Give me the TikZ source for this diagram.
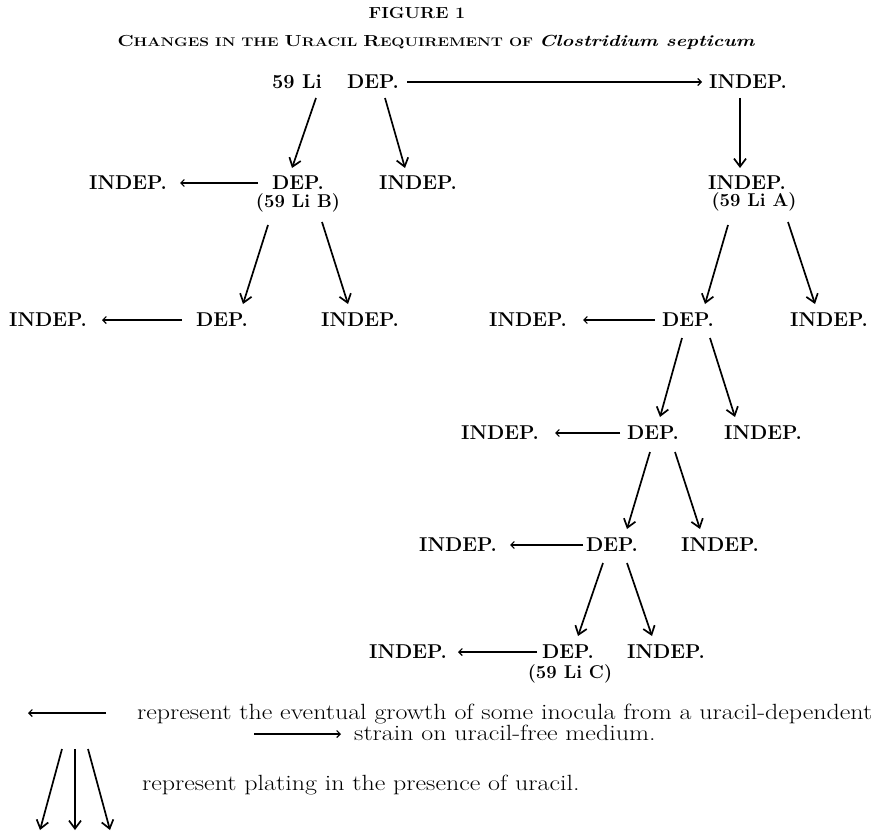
\documentclass[tikz,border=0pt]{standalone}
\usepackage{fontspec}
\usepackage{graphicx}
\usetikzlibrary{arrows.meta,calc}
\newcommand\mysc[2]{{\fontsize{16}{18}\selectfont #1}{\fontsize{12.5}{14}\selectfont #2}}
\begin{document}
\begin{tikzpicture}[x=1pt,y=-1pt,
  lbl/.style={font=\fontsize{20}{24}\selectfont\bfseries, inner sep=0pt},
  sublbl/.style={font=\fontsize{18.5}{21}\selectfont\bfseries, inner sep=0pt},
  legtxt/.style={font=\fontsize{22}{24}\selectfont, inner sep=0pt},
  dar/.style={line width=1.7pt, -{Straight Barb[length=8pt,width=12pt]}},
  har/.style={line width=1.1pt, -{Straight Barb[length=3.5pt,width=7pt]}}]
\useasboundingbox (0,0) rectangle (883,832);
% titles
\node[inner sep=0pt] (title) at (417,13) {\scalebox{1.12}[1]{\fontsize{16}{18}\selectfont\bfseries FIGURE 1}};
\node[inner sep=0pt, font=\fontsize{13}{15}\selectfont\bfseries] (subtitle) at (436,42)
  {\resizebox{637pt}{\height}{\mysc{C}{HANGES} \mysc{}{IN THE} \mysc{U}{RACIL} \mysc{R}{EQUIREMENT} \mysc{}{OF} {\fontsize{16}{18}\selectfont\itshape Clostridium septicum}}};
% row 1
\node[lbl] (a) at (297,82) {59 Li};
\node[lbl] (b) at (373,82) {DEP.};
\node[lbl] (c) at (748,82) {INDEP.};
% row 2
\node[lbl] (d) at (128,183) {INDEP.};
\node[lbl] (e) at (298,183) {DEP.};
\node[sublbl] (eB) at (298,203) {(59 Li B)};
\node[lbl] (f) at (418,183) {INDEP.};
\node[lbl] (g) at (747,183) {INDEP.};
\node[sublbl] (gA) at (754,202) {(59 Li A)};
% row 3
\node[lbl] (h) at (48,320) {INDEP.};
\node[lbl] (i) at (222,320) {DEP.};
\node[lbl] (j) at (360,320) {INDEP.};
\node[lbl] (k) at (528,320) {INDEP.};
\node[lbl] (l) at (688,320) {DEP.};
\node[lbl] (m) at (829,320) {INDEP.};
% row 4
\node[lbl] (n) at (500,433) {INDEP.};
\node[lbl] (o) at (653,433) {DEP.};
\node[lbl] (p) at (763,433) {INDEP.};
% row 5
\node[lbl] (q) at (458,545) {INDEP.};
\node[lbl] (r) at (612,545) {DEP.};
\node[lbl] (s) at (720,545) {INDEP.};
% row 6
\node[lbl] (t) at (408,652) {INDEP.};
\node[lbl] (u) at (568,652) {DEP.};
\node[sublbl] (uC) at (570,674) {(59 Li C)};
\node[lbl] (v) at (666,652) {INDEP.};
% horizontal arrows
\draw[har] ($(b)+(34,0)$) -- ($(c)+(-46,0)$);
\draw[har] ($(e)+(-40,0)$) -- ($(d)+(52,0)$);
\draw[har] ($(i)+(-40,0)$) -- ($(h)+(54,0)$);
\draw[har] ($(l)+(-33,0)$) -- ($(k)+(55,0)$);
\draw[har] ($(o)+(-33,0)$) -- ($(n)+(55,0)$);
\draw[har] ($(r)+(-29,0)$) -- ($(q)+(52,0)$);
\draw[har] ($(u)+(-31,0)$) -- ($(t)+(50,0)$);
% plating arrows
\draw[dar] ($(c)+(-8,16)$) -- ($(g)+(-7,-15)$);
\draw[dar] ($(a)+(19,16)$) -- ($(e)+(-6,-15)$);
\draw[dar] ($(b)+(12,16)$) -- ($(f)+(-13,-15)$);
\draw[dar] ($(eB)+(-30,22)$) -- ($(i)+(21,-16)$);
\draw[dar] ($(eB)+(24,19)$) -- ($(j)+(-12,-16)$);
\draw[dar] ($(gA)+(-26,23)$) -- ($(l)+(17,-16)$);
\draw[dar] ($(gA)+(34,20)$) -- ($(m)+(-14,-16)$);
\draw[dar] ($(l)+(-6,18)$) -- ($(o)+(7,-16)$);
\draw[dar] ($(l)+(22,18)$) -- ($(p)+(-28,-16)$);
\draw[dar] ($(o)+(-3,19)$) -- ($(r)+(15,-16)$);
\draw[dar] ($(o)+(22,19)$) -- ($(s)+(-20,-16)$);
\draw[dar] ($(r)+(-9,18)$) -- ($(u)+(10,-16)$);
\draw[dar] ($(r)+(15,18)$) -- ($(v)+(-14,-16)$);
% legend
\node[legtxt, anchor=base west] (leg1) at (137,719) {\scalebox{1.18}[1]{represent the eventual growth of some inocula from a uracil-dependent}};
\node[legtxt, anchor=base west] (leg2) at (354,740) {\scalebox{1.18}[1]{strain on uracil-free medium.}};
\node[legtxt, anchor=base west] (leg3) at (142,790) {\scalebox{1.18}[1]{represent plating in the presence of uracil.}};
\coordinate (la1) at (106,713);
\coordinate (la2) at (28,713);
\coordinate (ra1) at (254,734);
\coordinate (ra2) at (341,734);
\draw[har] (la1) -- (la2);
\draw[har] (ra1) -- (ra2);
\coordinate (d1a) at (62,749); \coordinate (d1b) at (40,830);
\coordinate (d2a) at (75,749); \coordinate (d2b) at (75,830);
\coordinate (d3a) at (88,749); \coordinate (d3b) at (110,830);
\draw[dar] (d1a) -- (d1b);
\draw[dar] (d2a) -- (d2b);
\draw[dar] (d3a) -- (d3b);
\end{tikzpicture}
\end{document}
